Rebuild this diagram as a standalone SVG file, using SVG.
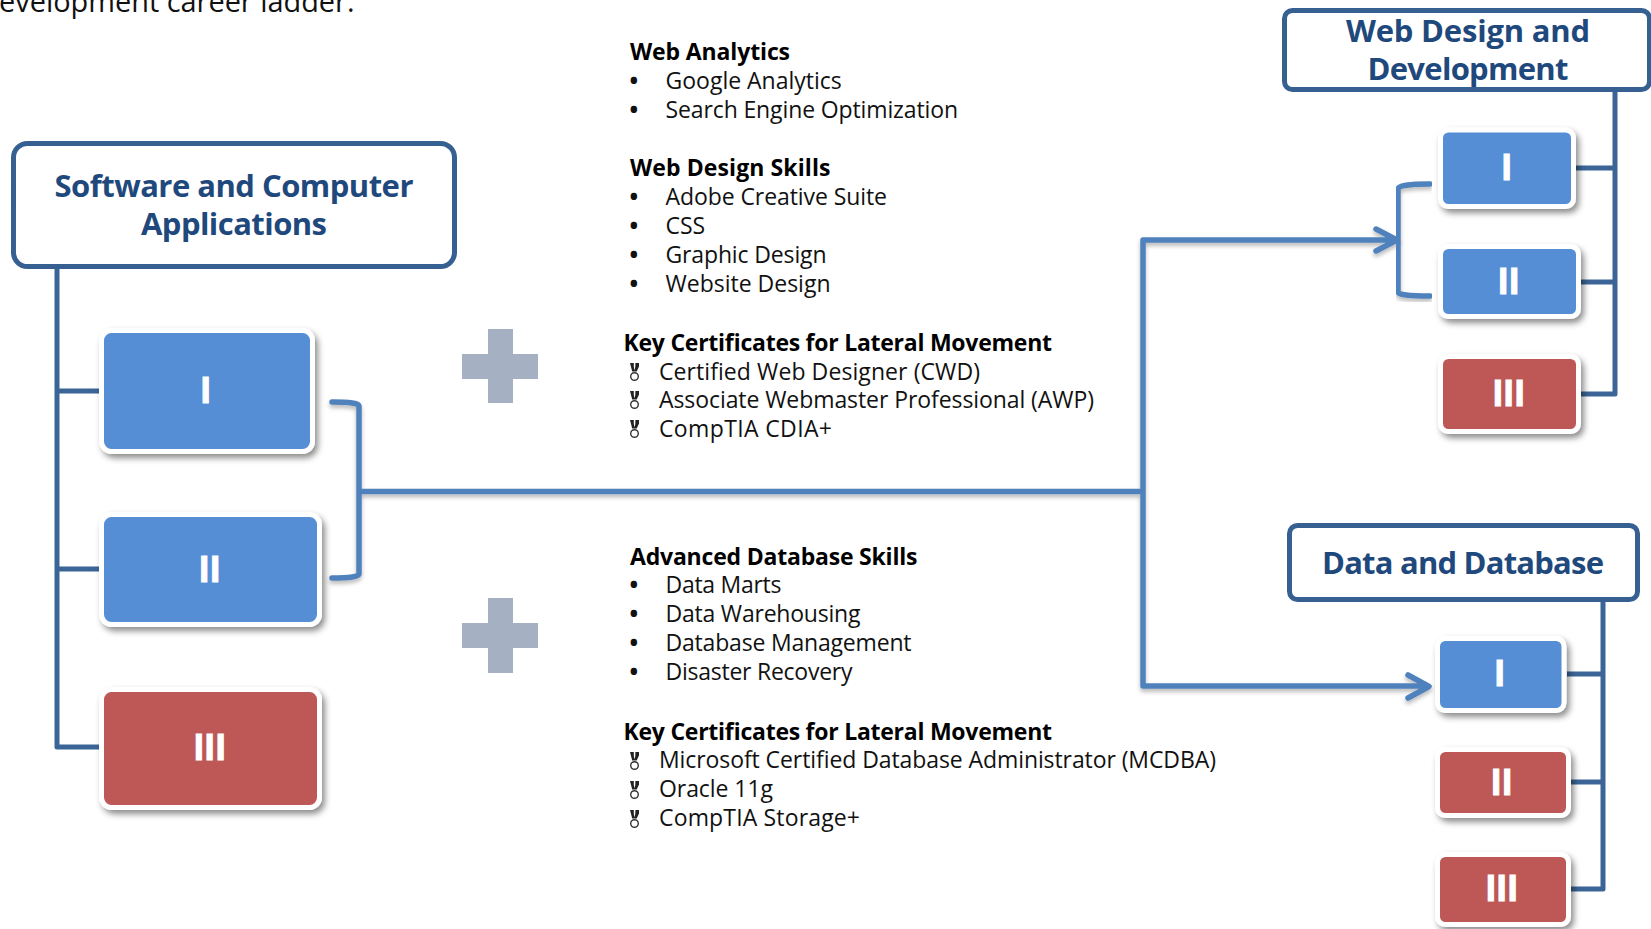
<svg xmlns="http://www.w3.org/2000/svg" width="1651" height="929" viewBox="0 0 1651 929">
<style>
text{font-family:"Open Sans","Noto Sans","Liberation Sans",sans-serif;fill:#111}
.b{font-size:23px}
.bu{font-size:23px;font-weight:700}
.top{font-size:28.900px}
.h{font-size:23px;font-weight:700;fill:#000}
.t{font-size:31px;font-weight:700;fill:#1f497d;text-anchor:middle}
.n{font-family:"Liberation Sans",Arial,sans-serif;font-size:37px;font-weight:700;fill:#fff;stroke:#fff;stroke-width:.9;text-anchor:middle;letter-spacing:.6px}
.hd{fill:#fff;stroke:#376092;stroke-width:5}
.blue{fill:#558ed5;stroke:#fff;stroke-width:5;filter:url(#s)}
.red{fill:#be5857;stroke:#fff;stroke-width:5;filter:url(#s)}
.tree{fill:none;stroke:#3b6596;stroke-width:5;stroke-linejoin:round}
.flow{fill:none;stroke:#4f81bd;stroke-width:5.500;stroke-linejoin:round;stroke-linecap:round;filter:url(#ls)}
.plus{fill:#a5b1c2}
</style>
<defs>
<filter id="s" x="-15%" y="-15%" width="135%" height="135%"><feDropShadow dx="3" dy="4" stdDeviation="3" flood-color="#000" flood-opacity=".45"/></filter>
<filter id="ls" x="-5%" y="-5%" width="110%" height="110%"><feDropShadow dx="0" dy="3" stdDeviation="2" flood-color="#000" flood-opacity=".28"/></filter>
<g id="m"><path d="M-4.500 -18h3.800v4l1 4.500h-2.600zM.9 -18h3.600v3.500l-2.300 5h-2.400l1-4.500z" fill="#222"/><circle cx="0" cy="-4.500" r="3.800" fill="none" stroke="#333" stroke-width="1.400"/></g>
</defs>
<rect width="1651" height="929" fill="#fff"/>
<text class="top" x="-1" y="12">evelopment career ladder.</text>

<g id="connectors">
<path class="tree" d="M57 267V747H99M57 391H99M57 569H99"/>
<path class="tree" d="M1615 90V394H1581M1615 168H1576M1615 282H1581"/>
<path class="tree" d="M1603 600V889H1571M1603 674H1567M1603 782H1571"/>
<path class="flow" d="M332 402Q359 402 359 406V574Q359 578 332 578M360 491.500H1143M1143 240V686M1143 240H1396M1376 229L1397 240L1376 251M1143 686H1428M1408 675L1429 686.500L1408 698"/>
<path class="flow" d="M1430 184Q1398 184 1398 189V292Q1398 296 1430 296"/>
</g>

<g id="software"><rect class="hd" x="13.500" y="143.500" width="441" height="123" rx="14"/><text class="t" x="234" y="197" textLength="359">Software and Computer</text><text class="t" x="234" y="235" textLength="186">Applications</text></g>
<g id="sw1"><rect class="blue" x="101.500" y="330.500" width="211" height="121" rx="10"/><text class="n" x="206" y="403">I</text></g>
<g id="sw2"><rect class="blue" x="101.500" y="514.500" width="218" height="110" rx="10"/><text class="n" x="210" y="582">II</text></g>
<g id="sw3"><rect class="red" x="101.500" y="689.500" width="218" height="118" rx="10"/><text class="n" x="210" y="760">III</text></g>

<g id="webdesign"><rect class="hd" x="1284.500" y="10.500" width="365" height="79" rx="8"/><text class="t" x="1468" y="42" textLength="244">Web Design and</text><text class="t" x="1468" y="80" textLength="201">Development</text></g>
<g id="wd1"><rect class="blue" x="1440.500" y="130" width="133" height="76.500" rx="8"/><text class="n" x="1507" y="180">I</text></g>
<g id="wd2"><rect class="blue" x="1440.500" y="246.500" width="138" height="70" rx="8"/><text class="n" x="1509" y="294">II</text></g>
<g id="wd3"><rect class="red" x="1440.500" y="356.500" width="138" height="75" rx="8"/><text class="n" x="1509" y="406">III</text></g>

<g id="database"><rect class="hd" x="1289.500" y="525.500" width="348" height="74" rx="8"/><text class="t" x="1463" y="574" textLength="282">Data and Database</text></g>
<g id="db1"><rect class="blue" x="1437.500" y="638.500" width="126.500" height="72" rx="8"/><text class="n" x="1500" y="686">I</text></g>
<g id="db2"><rect class="red" x="1437.500" y="749.500" width="131" height="66" rx="8"/><text class="n" x="1502" y="795">II</text></g>
<g id="db3"><rect class="red" x="1437.500" y="854.500" width="131" height="70" rx="8"/><text class="n" x="1502" y="901">III</text></g>

<g id="plus1"><path class="plus" d="M488 329H513V354H538V379H513V403H488V379H462V354H488z"/></g>
<g id="plus2"><path class="plus" d="M488 598H513V623H538V648H513V673H488V648H462V623H488z"/></g>

<g id="web-skills">
<text class="h" x="630" y="60" textLength="160">Web Analytics</text>
<text class="bu" x="629.500" y="89">•</text><text class="b" x="665.500" y="89">Google Analytics</text>
<text class="bu" x="629.500" y="118">•</text><text class="b" x="665.500" y="118" textLength="292.500">Search Engine Optimization</text>
<text class="h" x="630" y="176" textLength="200.500">Web Design Skills</text>
<text class="bu" x="629.500" y="205">•</text><text class="b" x="665.500" y="205" textLength="221.500">Adobe Creative Suite</text>
<text class="bu" x="629.500" y="234">•</text><text class="b" x="665.500" y="234">CSS</text>
<text class="bu" x="629.500" y="263">•</text><text class="b" x="665.500" y="263" textLength="161">Graphic Design</text>
<text class="bu" x="629.500" y="292">•</text><text class="b" x="665.500" y="292" textLength="165">Website Design</text>
<text class="h" x="623.500" y="351" textLength="428.500">Key Certificates for Lateral Movement</text>
<use href="#m" x="634.500" y="381"/><text class="b" x="659" y="380" textLength="321">Certified Web Designer (CWD)</text>
<use href="#m" x="634.500" y="409"/><text class="b" x="659" y="408" textLength="435">Associate Webmaster Professional (AWP)</text>
<use href="#m" x="634.500" y="438"/><text class="b" x="659" y="437" textLength="173">CompTIA CDIA+</text>
</g>
<g id="db-skills">
<text class="h" x="630" y="565" textLength="287.500">Advanced Database Skills</text>
<text class="bu" x="629.500" y="593">•</text><text class="b" x="665.500" y="593" textLength="116">Data Marts</text>
<text class="bu" x="629.500" y="622">•</text><text class="b" x="665.500" y="622" textLength="195">Data Warehousing</text>
<text class="bu" x="629.500" y="651">•</text><text class="b" x="665.500" y="651" textLength="246">Database Management</text>
<text class="bu" x="629.500" y="680">•</text><text class="b" x="665.500" y="680" textLength="187">Disaster Recovery</text>
<text class="h" x="623.500" y="740" textLength="428.500">Key Certificates for Lateral Movement</text>
<use href="#m" x="634.500" y="770"/><text class="b" x="659" y="768" textLength="557">Microsoft Certified Database Administrator (MCDBA)</text>
<use href="#m" x="634.500" y="799"/><text class="b" x="659" y="797" textLength="114">Oracle 11g</text>
<use href="#m" x="634.500" y="828"/><text class="b" x="659" y="826" textLength="201">CompTIA Storage+</text>
</g>
</svg>
